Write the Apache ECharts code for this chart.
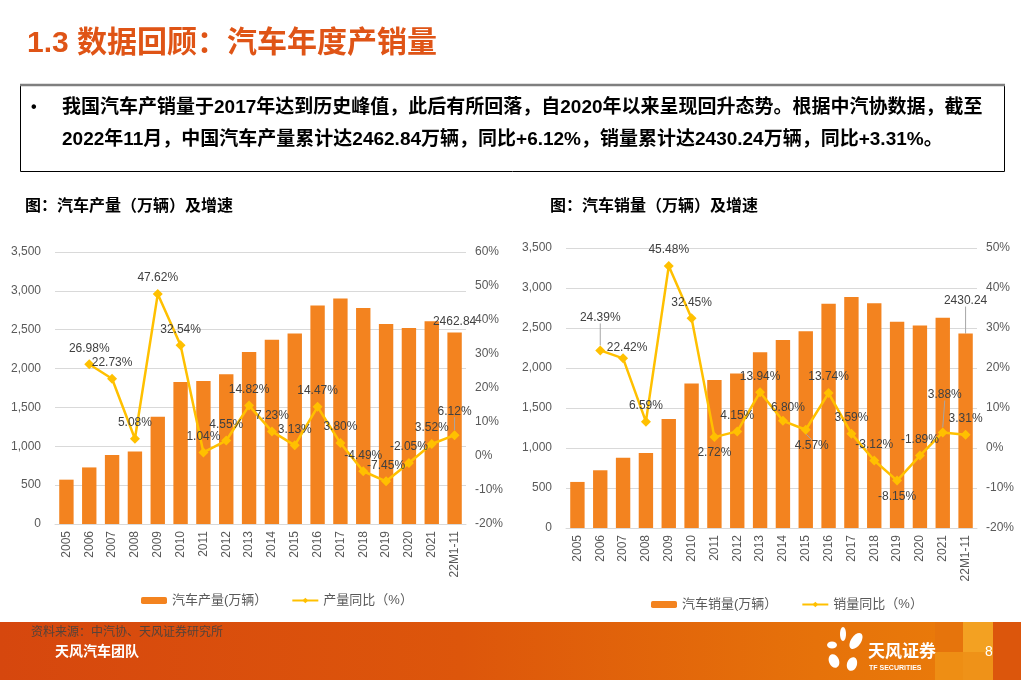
<!DOCTYPE html>
<html><head><meta charset="utf-8">
<script src="https://cdn.jsdelivr.net/npm/echarts@6/dist/echarts.min.js"></script>
<style>html,body{margin:0;padding:0;background:#fff;}#c{width:1021px;height:680px;}</style>
</head><body><div id="c"></div>
<script>
// ---- data ----
const categories = ['2005','2006','2007','2008','2009','2010','2011','2012','2013','2014','2015','2016','2017','2018','2019','2020','2021','22M1-11'];
const production = [570.5, 728, 888, 934.5, 1379, 1826, 1841, 1927, 2212, 2372, 2450, 2812, 2902, 2781, 2572, 2523, 2608, 2462.84];
const productionYoY = [null, 26.98, 22.73, 5.08, 47.62, 32.54, 1.04, 4.55, 14.82, 7.23, 3.13, 14.47, 3.80, -4.49, -7.45, -2.05, 3.52, 6.12];
const sales = [575.8, 721.6, 879, 938, 1364, 1806, 1851, 1931, 2198, 2349, 2460, 2803, 2888, 2808, 2577, 2531, 2627, 2430.24];
const salesYoY = [null, 24.39, 22.42, 6.59, 45.48, 32.45, 2.72, 4.15, 13.94, 6.80, 4.57, 13.74, 3.59, -3.12, -8.15, -1.89, 3.88, 3.31];
const volumeAxis = {min: 0, max: 3500, interval: 500};
const prodPctAxis = {min: -20, max: 60, interval: 10};
const salesPctAxis = {min: -20, max: 50, interval: 10};
const legendProd = ['汽车产量(万辆）', '产量同比（%）'];
const legendSales = ['汽车销量(万辆）', '销量同比（%）'];

// ---- label styling (positions of text labels only) ----
const prodLabelPos = {};
const prodLabelShift = {17: [0, -8]};
const salesLabelPos = {6: 'bottom', 10: 'bottom', 14: 'bottom'};
const salesLabelShift = {1: [0, -17], 2: [4, 5], 9: [5, 3], 10: [6, 0], 16: [2, -22]};
const leaderProd = {17: true};
const leaderSales = {1: true, 16: true, 10: true};

const FONT = '"Liberation Sans", Arial, "Noto Sans CJK SC", sans-serif';
const BAR = '#F3831F';
const LINE = '#FFC000';
const GREY = '#595959';

function lineData(vals, posMap, leaders) {
  return vals.map((v, i) => {
    if (v === null) return '-';
    const d = {value: v};
    if (posMap[i]) d.label = {position: posMap[i]};
    if (leaders[i]) d.labelLine = {show: true};
    return d;
  });
}
function barData(vals, leader) {
  return vals.map((v, i) => {
    if (i === vals.length - 1) {
      const d = {value: v, label: {show: true}};
      if (leader) d.labelLine = {show: true};
      return d;
    }
    return v;
  });
}
function shiftFn(map) {
  return function (p) {
    const o = map[p.dataIndex];
    return o ? {dx: o[0], dy: o[1]} : {};
  };
}
const pctLabel = {
  show: true, position: 'top', color: '#404040', fontSize: 12, fontFamily: FONT,
  formatter: p => p.value.toFixed(2) + '%'
};
function xAx(gi) {
  return {
    type: 'category', gridIndex: gi, data: categories,
    axisTick: {show: false},
    axisLine: {lineStyle: {color: '#D9D9D9'}},
    axisLabel: {rotate: 90, interval: 0, margin: 7, color: GREY, fontSize: 12, fontFamily: FONT}
  };
}
function yLeft(gi) {
  return Object.assign({
    type: 'value', gridIndex: gi,
    axisLine: {show: false}, axisTick: {show: false},
    axisLabel: {color: GREY, fontSize: 12, fontFamily: FONT, margin: 14,
      formatter: v => v.toLocaleString('en-US')},
    splitLine: {lineStyle: {color: '#D9D9D9'}}
  }, volumeAxis);
}
function yRight(gi, ax) {
  return Object.assign({
    type: 'value', gridIndex: gi, position: 'right',
    axisLine: {show: false}, axisTick: {show: false},
    axisLabel: {color: GREY, fontSize: 12, fontFamily: FONT, margin: 9, formatter: '{value}%'},
    splitLine: {show: false}
  }, ax);
}

const chart = echarts.init(document.getElementById('c'));
const option = {
  animation: false,
  textStyle: {fontFamily: FONT},
  grid: [
    {left: 55, right: 555, top: 252, bottom: 156},
    {left: 566, right: 44, top: 248, bottom: 152}
  ],
  xAxis: [xAx(0), xAx(1)],
  yAxis: [yLeft(0), yRight(0, prodPctAxis), yLeft(1), yRight(1, salesPctAxis)],
  legend: [
    {data: legendProd, left: 136, top: 589, itemWidth: 26, itemHeight: 7, itemGap: 24,
     textStyle: {color: GREY, fontSize: 13, fontFamily: FONT}},
    {data: legendSales, left: 646, top: 593, itemWidth: 26, itemHeight: 7, itemGap: 24,
     textStyle: {color: GREY, fontSize: 13, fontFamily: FONT}}
  ],
  series: [
    {name: legendProd[0], type: 'bar', xAxisIndex: 0, yAxisIndex: 0, barWidth: '63%',
     itemStyle: {color: BAR},
     label: {show: false, position: 'top', color: '#404040', fontSize: 12, fontFamily: FONT,
       formatter: p => p.value.toFixed(2)},
     data: barData(production, false)},
    {name: legendProd[1], type: 'line', xAxisIndex: 0, yAxisIndex: 1,
     symbol: 'diamond', symbolSize: 10, lineStyle: {color: LINE, width: 2.5},
     itemStyle: {color: LINE}, label: pctLabel,
     labelLine: {show: false, lineStyle: {color: '#A6A6A6', width: 1}},
     labelLayout: shiftFn(prodLabelShift),
     data: lineData(productionYoY, prodLabelPos, leaderProd)},
    {name: legendSales[0], type: 'bar', xAxisIndex: 1, yAxisIndex: 2, barWidth: '63%',
     itemStyle: {color: BAR},
     label: {show: false, position: 'top', color: '#404040', fontSize: 12, fontFamily: FONT,
       formatter: p => p.value.toFixed(2)},
     labelLine: {show: false, lineStyle: {color: '#A6A6A6', width: 1}},
     labelLayout: p => (p.dataIndex === sales.length - 1 ? {dy: -22} : {}),
     data: barData(sales, true)},
    {name: legendSales[1], type: 'line', xAxisIndex: 1, yAxisIndex: 3,
     symbol: 'diamond', symbolSize: 10, lineStyle: {color: LINE, width: 2.5},
     itemStyle: {color: LINE}, label: pctLabel,
     labelLine: {show: false, lineStyle: {color: '#A6A6A6', width: 1}},
     labelLayout: shiftFn(salesLabelShift),
     data: lineData(salesYoY, salesLabelPos, leaderSales)}
  ],
  graphic: [
    {type: 'text', x: 27, y: 44, style: {text: '1.3 数据回顾：汽车年度产销量', fill: '#DF5416',
      font: 'bold 30px ' + FONT, verticalAlign: 'middle'}},
    {type: 'rect', shape: {x: 20.5, y: 85.5, width: 984, height: 86}, style: {fill: 'none', stroke: '#000', lineWidth: 1}},
    {type: 'line', shape: {x1: 20, y1: 85, x2: 1005, y2: 85}, style: {stroke: '#7F7F7F', lineWidth: 2.5}},
    {type: 'text', x: 31, y: 108, style: {text: '•', fill: '#000', font: 'bold 16px ' + FONT, verticalAlign: 'middle'}},
    {type: 'text', x: 62, y: 108, style: {text: '我国汽车产销量于2017年达到历史峰值，此后有所回落，自2020年以来呈现回升态势。根据中汽协数据，截至',
      fill: '#000', font: 'bold 19px ' + FONT, verticalAlign: 'middle'}},
    {type: 'text', x: 62, y: 140, style: {text: '2022年11月，中国汽车产量累计达2462.84万辆，同比+6.12%，销量累计达2430.24万辆，同比+3.31%。',
      fill: '#000', font: 'bold 19px ' + FONT, verticalAlign: 'middle'}},
    {type: 'text', x: 25, y: 207, style: {text: '图：汽车产量（万辆）及增速', fill: '#000', font: 'bold 16px ' + FONT, verticalAlign: 'middle'}},
    {type: 'text', x: 550, y: 207, style: {text: '图：汽车销量（万辆）及增速', fill: '#000', font: 'bold 16px ' + FONT, verticalAlign: 'middle'}},
    // footer band
    {type: 'rect', shape: {x: 0, y: 622, width: 1021, height: 58}, style: {
      fill: new echarts.graphic.LinearGradient(0, 0, 1, 0, [
        {offset: 0, color: '#D6470E'}, {offset: 0.45, color: '#DD560B'},
        {offset: 0.8, color: '#E6720A'}, {offset: 1, color: '#EB7E0A'}])}},
    {type: 'rect', shape: {x: 935, y: 622, width: 28, height: 30}, style: {fill: '#E6740C'}},
    {type: 'rect', shape: {x: 935, y: 652, width: 28, height: 28}, style: {fill: '#EE8E14'}},
    {type: 'rect', shape: {x: 963, y: 622, width: 30, height: 30}, style: {fill: '#F3A122'}},
    {type: 'rect', shape: {x: 963, y: 652, width: 30, height: 28}, style: {fill: '#EF9218'}},
    {type: 'rect', shape: {x: 993, y: 622, width: 28, height: 58}, style: {fill: '#DC560C'}},
    {type: 'text', x: 31, y: 633, style: {text: '资料来源：中汽协、天风证券研究所', fill: '#55433A', font: '12px ' + FONT, verticalAlign: 'middle'}},
    {type: 'text', x: 55, y: 652, style: {text: '天风汽车团队', fill: '#FFFFFF', font: 'bold 14px ' + FONT, verticalAlign: 'middle'}},
    // logo petals
    {type: 'ellipse', shape: {cx: 843, cy: 634, rx: 3, ry: 7}, style: {fill: '#fff'}},
    {type: 'ellipse', shape: {cx: 856, cy: 641, rx: 5, ry: 9}, rotation: -0.6, originX: 856, originY: 641, style: {fill: '#fff'}},
    {type: 'ellipse', shape: {cx: 832, cy: 645, rx: 5, ry: 3.5}, style: {fill: '#fff'}},
    {type: 'ellipse', shape: {cx: 834, cy: 661, rx: 5, ry: 7}, rotation: 0.4, originX: 834, originY: 661, style: {fill: '#fff'}},
    {type: 'ellipse', shape: {cx: 852, cy: 664, rx: 5, ry: 7}, rotation: -0.3, originX: 852, originY: 664, style: {fill: '#fff'}},
    {type: 'text', x: 868, y: 652, style: {text: '天风证券', fill: '#fff', font: 'bold 17px ' + FONT, verticalAlign: 'middle'}},
    {type: 'text', x: 869, y: 668, style: {text: 'TF SECURITIES', fill: '#fff', font: 'bold 7px ' + FONT, verticalAlign: 'middle'}},
    {type: 'text', x: 985, y: 652, style: {text: '8', fill: '#fff', font: '14px ' + FONT, verticalAlign: 'middle'}}
  ]
};
chart.setOption(option);
</script>
</body></html>
